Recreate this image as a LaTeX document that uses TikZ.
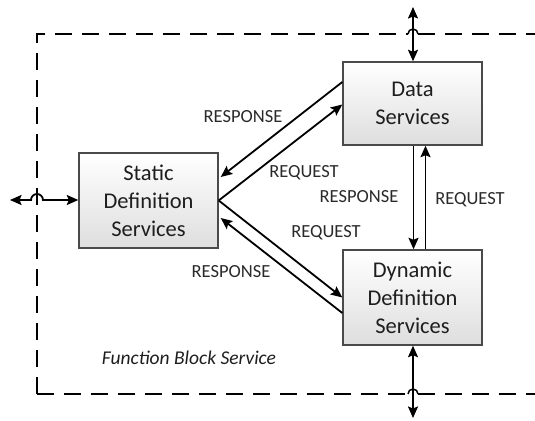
\documentclass[tikz,border=0pt]{standalone}
\usepackage{fontspec}
\setmainfont{Carlito}
\usepackage{tikz}
\usetikzlibrary{arrows.meta,positioning,calc}
\definecolor{BoxLine}{HTML}{4A4A4A}
\definecolor{BoxText}{HTML}{1E1E1E}
\definecolor{LabelText}{HTML}{2A2A2A}

\begin{document}
\begin{tikzpicture}[x=1pt, y=1pt,
  >={Stealth[length=11.5pt,width=10pt,inset=2pt]},
  service/.style={draw=BoxLine, line width=1.4pt, top color=white, bottom color=black!13,
    minimum width=139pt, align=center, text=BoxText,
    font=\fontsize{22.5}{28}\selectfont},
  link/.style={line width=1.8pt, ->},
  msg/.style={text=LabelText, inner sep=0pt, font=\fontsize{18.5}{20}\selectfont},
  fbframe/.style={line width=2.8pt, dash pattern=on 17pt off 10pt}]
  \useasboundingbox (0,0) rectangle (535,420);

  \draw[fbframe] (37,26) -- (37,386) -- (408,386);
  \draw[fbframe] (418,386) -- (545,386);
  \draw[fbframe] (37,26) -- (408,26);
  \draw[fbframe] (418,26) -- (545,26);
  \draw[line width=1.5pt] (408,386) arc[start angle=180, end angle=0, radius=5pt];
  \draw[line width=1.5pt] (408,26) arc[start angle=180, end angle=0, radius=5pt];

  \node[service, minimum height=95pt] (static) at (148.5,219.5) {Static\\Definition\\Services};
  \node[service, minimum height=83pt] (data) at (412.5,316.5) {Data\\Services};
  \node[service, minimum height=95pt] (dynamic) at (412.5,122.5) {Dynamic\\Definition\\Services};

  \coordinate (ext-left) at (10,220);
  \coordinate (ext-top) at (413,413);
  \coordinate (ext-bottom) at (413,2);

  \draw[link, <->] (ext-left) -- (31,220) arc[start angle=180, end angle=0, radius=6pt] -- (static.west |- 0,220);
  \draw[link, <->] (ext-top) -- (data.north -| ext-top);
  \draw[link, <->] (dynamic.south -| ext-bottom) -- (ext-bottom);

  \draw[link] ([yshift=21.5pt]data.west) -- ([xshift=2pt,yshift=23.5pt]static.east);
  \draw[link] (static.east) -- ([yshift=-1pt]data.west);
  \draw[link] (static.east) -- (dynamic.west);
  \draw[link] ([yshift=-15.5pt]dynamic.west) -- ([xshift=2pt,yshift=-17.5pt]static.east);
  \draw[link] ([xshift=1pt]data.south) -- ([xshift=1pt]dynamic.north);
  \draw[link] ([xshift=13pt]dynamic.north) -- ([xshift=13pt]data.south);

  \node[msg] (resp-up) at (243,303) {RESPONSE};
  \node[msg] (req-up) at (304,247) {REQUEST};
  \node[msg] (resp-mid) at (359,223) {RESPONSE};
  \node[msg] (req-right) at (470,220) {REQUEST};
  \node[msg] (req-low) at (326,187) {REQUEST};
  \node[msg] (resp-low) at (231,148) {RESPONSE};
  \node[text=BoxText, font=\fontsize{19.5}{22}\selectfont\itshape] (fbs) at (189,62) {Function Block Service};
\end{tikzpicture}
\end{document}
